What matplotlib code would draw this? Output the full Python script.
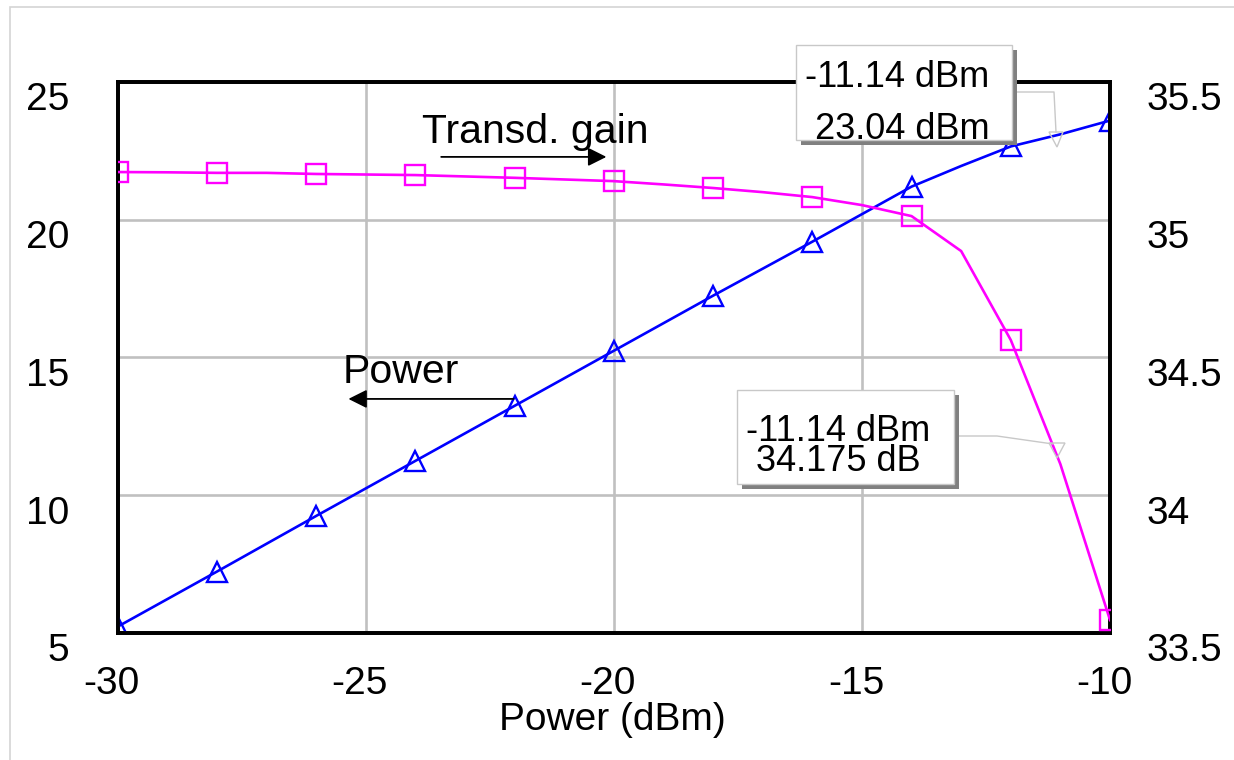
import matplotlib
matplotlib.use("Agg")
import matplotlib.pyplot as plt
from matplotlib.patches import Rectangle, Polygon
from matplotlib.lines import Line2D
from matplotlib.transforms import ScaledTranslation

# swept input power (dBm)
pin = [-30, -29, -28, -27, -26, -25, -24, -23, -22, -21, -20,
       -19, -18, -17, -16, -15, -14, -13, -12, -11, -10]
# output power (dBm), left axis
pout = [5.22, 6.22, 7.22, 8.23, 9.24, 10.24, 11.24, 12.24, 13.24, 14.24, 15.24,
        16.24, 17.24, 18.22, 19.2, 20.2, 21.2, 21.95, 22.66, 23.1, 23.6]
# transducer gain (dB), right axis
gain = [35.173, 35.172, 35.170, 35.170, 35.166, 35.164, 35.162, 35.157, 35.152, 35.146, 35.140,
        35.128, 35.115, 35.100, 35.082, 35.053, 35.013, 34.886, 34.563, 34.112, 33.546]

xticks = [-30, -25, -20, -15, -10]
yticks_left = [5, 10, 15, 20, 25]
yticks_right = [33.5, 34, 34.5, 35, 35.5]
yticklabels_right = ["33.5", "34", "34.5", "35", "35.5"]

marker_note = "-11.14 dBm\n 23.04 dBm"
gain_note = "-11.14 dBm\n 34.175 dB"

plt.rcParams["font.family"] = ["Liberation Sans", "DejaVu Sans"]
plt.rcParams["axes.unicode_minus"] = False

W, H = 1234, 760
fig = plt.figure(figsize=(W / 100, H / 100), dpi=100)


def fx(x):
    return x / W


def fy(y):
    return 1 - y / H


# light outer frame
fig.add_artist(Rectangle((fx(10), fy(790)), fx(1300), 783 / H, transform=fig.transFigure,
                         facecolor="none", edgecolor="#d4d4d4", lw=1.2, zorder=0))

ax = fig.add_axes([fx(117.7), fy(632.7), (1110 - 117.7) / W, (632.7 - 82) / H])
ax2 = ax.twinx()

ax.plot(pin, pout, color="#0000ff", lw=1.9, marker="^", ms=14.5, mfc="none",
        mec="#0000ff", mew=1.7, markevery=2, zorder=3)
ax2.plot(pin, gain, color="#ff00ff", lw=1.9, marker="s", ms=14.5, mfc="none",
         mec="#ff00ff", mew=1.7, markevery=2, zorder=3)

ax.set_xlim(-30, -10)
ax.set_ylim(5, 25)
ax2.set_ylim(33.5, 35.5)
ax.set_xticks(xticks)
ax.set_yticks(yticks_left)
ax2.set_yticks(yticks_right)
ax2.set_yticklabels(yticklabels_right)

ax.grid(True, color="#c0c0c0", lw=1.9)
ax.set_axisbelow(True)
for a in (ax, ax2):
    for s in a.spines.values():
        s.set_linewidth(2.7)
        s.set_color("black")

ax.tick_params(axis="y", length=0, labelsize=28, pad=35)
ax.tick_params(axis="x", length=0, labelsize=28, pad=24)
ax2.tick_params(axis="y", length=0, labelsize=28, pad=26)

down = ScaledTranslation(0, -0.145, fig.dpi_scale_trans)
for lab in ax.get_yticklabels() + ax2.get_yticklabels():
    lab.set_transform(lab.get_transform() + down)
left = ScaledTranslation(-0.06, 0, fig.dpi_scale_trans)
for lab in ax.get_xticklabels():
    lab.set_transform(lab.get_transform() + left)

ax.set_xlabel("Power (dBm)", fontsize=28)
ax.xaxis.set_label_coords(0.4985, -0.126)

# curve labels with direction arrows
ax.text(-23.87, 22.79, "Transd. gain", fontsize=29.5, ha="left", va="baseline")
ax.annotate("", xy=(-20.15, 22.28), xytext=(-23.48, 22.28),
            arrowprops=dict(arrowstyle="-|>", color="black", lw=1.3,
                            mutation_scale=28, shrinkA=0, shrinkB=0))
ax.text(-25.46, 14.07, "Power", fontsize=29.5, ha="left", va="baseline")
ax.annotate("", xy=(-25.35, 13.49), xytext=(-22.02, 13.49),
            arrowprops=dict(arrowstyle="-|>", color="black", lw=1.3,
                            mutation_scale=28, shrinkA=0, shrinkB=0))


def note_box(x0, y0, x1, y1, note, text_pos, spacing, leader, tri):
    # shadow, box, text and leader drawn in pixel positions
    fig.add_artist(Rectangle((fx(x0 + 5), fy(y1 + 5)), (x1 - x0) / W, (y1 - y0) / H,
                             transform=fig.transFigure, facecolor="#808080",
                             edgecolor="none", zorder=5))
    fig.add_artist(Rectangle((fx(x0), fy(y1)), (x1 - x0) / W, (y1 - y0) / H,
                             transform=fig.transFigure, facecolor="white",
                             edgecolor="#c8c8c8", lw=1, zorder=6))
    fig.text(fx(text_pos[0]), fy(text_pos[1]), note, fontsize=26, ha="left", va="top",
             linespacing=spacing, multialignment="left", zorder=7)
    fig.add_artist(Line2D([fx(p[0]) for p in leader], [fy(p[1]) for p in leader],
                          transform=fig.transFigure, color="#c8c8c8", lw=1, zorder=4))
    fig.add_artist(Polygon([(fx(p[0]), fy(p[1])) for p in tri], closed=True,
                           transform=fig.transFigure, facecolor="none",
                           edgecolor="#c8c8c8", lw=1, zorder=4))


note_box(795.5, 44.5, 1011.5, 139.5, marker_note, (805, 60), 1.64,
         [(1016, 92), (1054, 92), (1056, 132)],
         [(1049, 132), (1063, 132), (1057, 147)])
note_box(736.5, 389.5, 953.5, 483.5, gain_note, (746, 414), 0.8,
         [(958, 436), (997, 436), (1053, 444)],
         [(1049, 443), (1065, 443), (1057, 458)])

fig.savefig("out.png", dpi=100)
